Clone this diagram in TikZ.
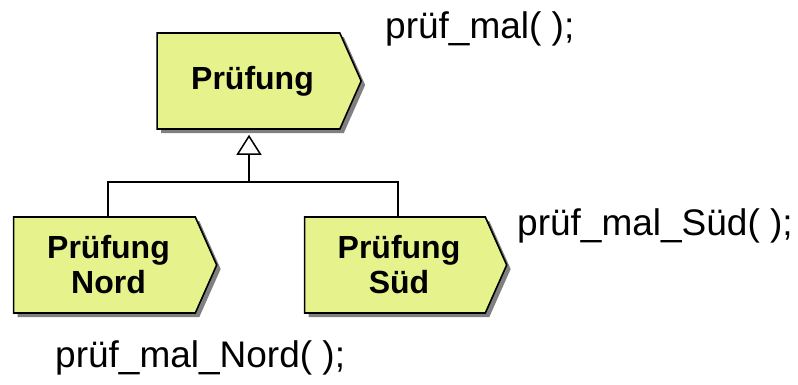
\documentclass[tikz,border=0pt]{standalone}
\usepackage{fontspec}
\setmainfont{Liberation Sans}
\usetikzlibrary{arrows.meta,shapes.symbols,shadows}
\definecolor{klassgelb}{RGB}{230,242,140}
\newcommand{\rein}{\hspace*{8pt}}

\tikzset{
  klasse/.style={draw,line width=1.6pt,fill=klassgelb,signal,signal to=east,
    signal pointer angle=132,minimum height=96pt,align=center,
    font=\fontsize{32}{35}\selectfont\bfseries,
    drop shadow={shadow xshift=4pt,shadow yshift=-4pt,fill=black!50,opacity=1}},
  methode/.style={font=\fontsize{37}{40}\selectfont,inner sep=0pt,anchor=base west},
  linie/.style={line width=1.5pt}
}

\begin{document}
\begin{tikzpicture}[x=1pt,y=-1pt]
\useasboundingbox (0,0) rectangle (798,384);
\node[klasse,minimum width=204pt] (pruefung) at (248.5,81) {\rein Prüfung};
\node[klasse,minimum width=203pt] (nord) at (104.5,265) {\rein Prüfung\\\rein Nord};
\node[klasse,minimum width=202pt] (sued) at (395,265) {\rein Prüfung\\\rein Süd};
\node[methode] (mal) at (385,38) {prüf\_mal( );};
\node[methode] (malsued) at (517,235) {prüf\_mal\_Süd( );};
\node[methode] (malnord) at (55,367) {prüf\_mal\_Nord( );};
\coordinate (gabel) at (249,182);
\draw[linie] ([xshift=3.5pt]nord.north) |- (gabel) -| ([xshift=3pt]sued.north);
\draw[linie,-{Triangle[open,width=25pt,length=20pt]}] (gabel) -- ([xshift=0.5pt,yshift=-5pt]pruefung.south);
\end{tikzpicture}
\end{document}
